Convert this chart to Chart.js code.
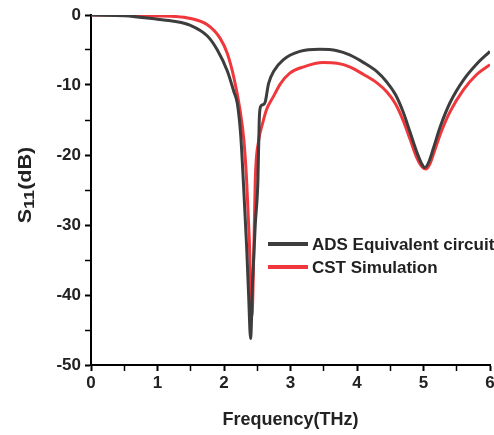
<!DOCTYPE html>
<html>
<head>
<meta charset="utf-8">
<script src="https://cdn.jsdelivr.net/npm/chart.js@4/dist/chart.umd.min.js"></script>
<style>
  html, body { margin: 0; padding: 0; background: #fff; }
</style>
</head>
<body>
<canvas id="mycanvas" width="494" height="435"></canvas>
<script>
// values
const freqADS = [0, 0.5, 1.0, 1.25, 1.5, 1.75, 1.9, 2.05, 2.15, 2.2, 2.25, 2.29, 2.34, 2.37, 2.40, 2.43, 2.47, 2.51, 2.53, 2.55, 2.59, 2.62, 2.67, 2.75, 2.89, 3.14, 3.44, 3.7, 3.89, 4.1, 4.3, 4.45, 4.58, 4.7, 4.8, 4.9, 4.97, 5.02, 5.08, 5.15, 5.25, 5.4, 5.6, 5.8, 6.0];
const s11ADS  = [0, -0.1, -0.6, -0.9, -1.5, -3.0, -5.0, -8.0, -11.0, -12.6, -17.0, -23.6, -33.0, -40.0, -46.2, -38.0, -30.0, -23.6, -15.0, -13.1, -12.8, -12.4, -9.8, -8.0, -6.4, -5.2, -4.9, -5.1, -5.7, -6.8, -8.1, -9.6, -11.4, -14.0, -16.8, -19.6, -21.2, -21.8, -21.0, -19.0, -16.0, -12.5, -9.3, -7.0, -5.2];

const freqCST = [0, 0.5, 1.0, 1.25, 1.5, 1.75, 1.94, 2.05, 2.15, 2.24, 2.30, 2.34, 2.38, 2.42, 2.45, 2.47, 2.52, 2.58, 2.64, 2.74, 2.85, 2.99, 3.2, 3.49, 3.7, 3.89, 4.1, 4.3, 4.45, 4.58, 4.7, 4.8, 4.9, 4.98, 5.04, 5.1, 5.17, 5.27, 5.4, 5.6, 5.8, 6.0];
const s11CST  = [0, 0, -0.15, -0.2, -0.5, -1.4, -3.3, -5.5, -9.0, -13.5, -18.0, -23.6, -32.0, -43.0, -33.0, -23.6, -18.0, -15.5, -13.5, -11.7, -9.8, -8.3, -7.4, -6.8, -6.9, -7.4, -8.5, -9.7, -11.0, -12.7, -15.2, -17.8, -20.4, -21.7, -22.0, -21.2, -19.3, -16.6, -13.8, -10.7, -8.5, -7.1];

const seriesNames = ['ADS Equivalent circuit', 'CST Simulation'];
const seriesColors = ['#3d3d3d', '#f0373c'];

function toPoints(xs, ys) {
  return xs.map(function(x, i) { return { x: x, y: ys[i] }; });
}

const FONT = '"Liberation Sans", Arial, sans-serif';

// y axis title with subscript
const yTitlePlugin = {
  id: 'yTitle',
  afterDraw: function(chart) {
    const ctx = chart.ctx;
    ctx.save();
    ctx.translate(26, 185);
    ctx.rotate(-Math.PI / 2);
    ctx.scale(1.2, 1);
    ctx.fillStyle = '#222';
    ctx.textBaseline = 'middle';
    const big = 'bold 18px ' + FONT;
    const small = 'bold 15px ' + FONT;
    ctx.font = big;
    const wS = ctx.measureText('S').width;
    const wP = ctx.measureText('(dB)').width;
    ctx.font = small;
    const w11 = ctx.measureText('11').width;
    let x = -(wS + w11 + wP) / 2;
    ctx.font = big;
    ctx.fillText('S', x, 0);
    x += wS;
    ctx.font = small;
    ctx.fillText('11', x, 4);
    x += w11;
    ctx.font = big;
    ctx.fillText('(dB)', x, 0);
    ctx.restore();
  }
};

// legend inside the plot
const legendPlugin = {
  id: 'innerLegend',
  afterDraw: function(chart) {
    const ctx = chart.ctx;
    ctx.save();
    ctx.font = 'bold 17px ' + FONT;
    ctx.textBaseline = 'middle';
    chart.data.datasets.forEach(function(ds, i) {
      const y = 244 + i * 23;
      ctx.strokeStyle = ds.borderColor;
      ctx.lineWidth = 4;
      ctx.beginPath();
      ctx.moveTo(268, y);
      ctx.lineTo(308, y);
      ctx.stroke();
      ctx.fillStyle = '#222';
      ctx.fillText(ds.label, 312, y + 1);
    });
    ctx.restore();
  }
};

var ctx = document.getElementById('mycanvas');

new Chart(ctx, {
  type: 'line',
  data: {
    datasets: [
      {
        label: seriesNames[0],
        data: toPoints(freqADS, s11ADS),
        borderColor: seriesColors[0],
        borderWidth: 3,
        pointRadius: 0,
        cubicInterpolationMode: 'monotone'
      },
      {
        label: seriesNames[1],
        data: toPoints(freqCST, s11CST),
        borderColor: seriesColors[1],
        borderWidth: 3,
        pointRadius: 0,
        cubicInterpolationMode: 'monotone'
      }
    ]
  },
  options: {
    responsive: false,
    animation: false,
    layout: { padding: { top: 15, right: 0, left: 0, bottom: 0 } },
    plugins: {
      legend: { display: false },
      tooltip: { enabled: false }
    },
    scales: {
      x: {
        type: 'linear',
        min: 0,
        max: 6,
        afterFit: function(scale) { scale.height = 70; scale.paddingRight = 4; },
        border: { color: '#000', width: 2 },
        grid: {
          drawOnChartArea: false,
          tickLength: 6,
          tickColor: '#000',
          tickWidth: function(c) { return Number.isInteger(c.tick.value) ? 2 : 1.5; }
        },
        ticks: {
          stepSize: 0.5,
          padding: 2,
          color: '#222',
          font: { family: FONT, size: 17, weight: 'bold' },
          callback: function(v) { return Number.isInteger(v) ? v : ''; }
        },
        title: {
          display: true,
          text: 'Frequency(THz)',
          color: '#222',
          font: { family: FONT, size: 18, weight: 'bold' },
          padding: { top: 10 }
        }
      },
      y: {
        min: -50,
        max: 0,
        afterFit: function(scale) { scale.width = 91; },
        border: { color: '#000', width: 2 },
        grid: {
          drawOnChartArea: false,
          tickLength: 6,
          tickColor: '#000',
          tickWidth: function(c) { return c.tick.value % 10 === 0 ? 2 : 1.5; }
        },
        ticks: {
          stepSize: 5,
          padding: 4,
          color: '#222',
          font: { family: FONT, size: 17, weight: 'bold' },
          callback: function(v) { return v % 10 === 0 ? v : ''; }
        }
      }
    }
  },
  plugins: [yTitlePlugin, legendPlugin]
});
</script>
</body>
</html>
